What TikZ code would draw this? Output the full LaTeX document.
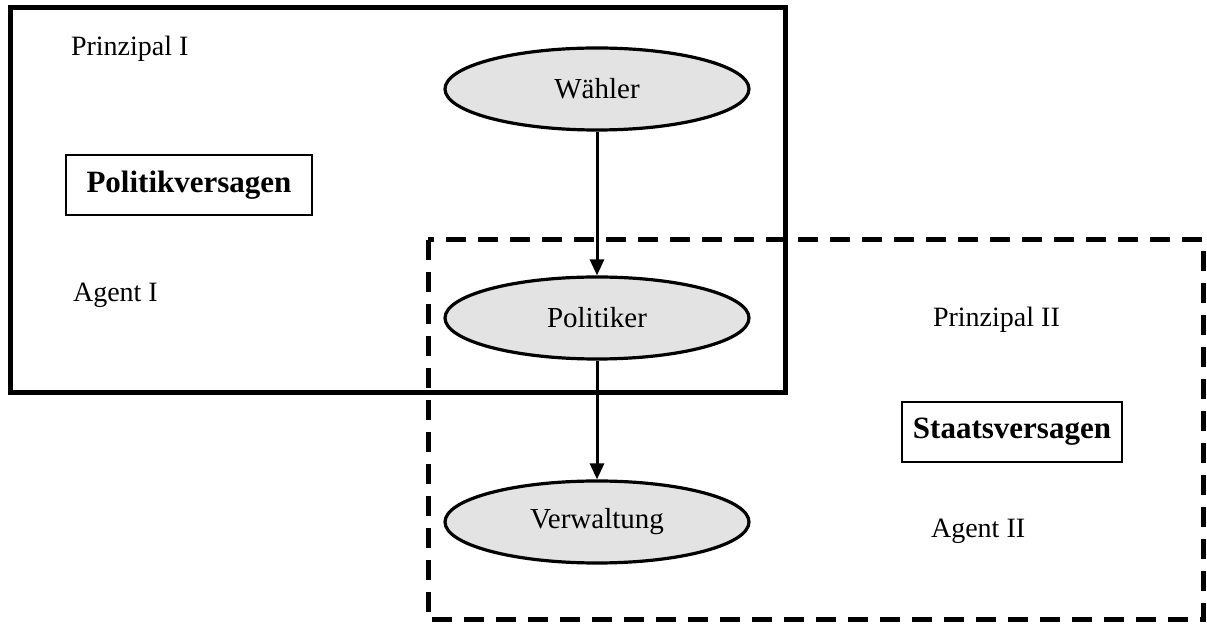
\documentclass[tikz,border=0pt]{standalone}
\usepackage{fontspec}
\setmainfont{Liberation Serif}
\usetikzlibrary{shapes.geometric,arrows.meta}
\begin{document}
\begin{tikzpicture}[x=0.5pt,y=-0.5pt,
  akteur/.style={ellipse, draw, line width=1.6pt, fill=gray!22, minimum width=152pt, minimum height=41pt, inner sep=0pt, font=\fontsize{14.5}{16}\selectfont},
  versagen/.style={draw, line width=0.6pt, font=\fontsize{15.5}{17}\selectfont\bfseries, inner sep=0pt},
  rolle/.style={anchor=west, font=\fontsize{14}{16}\selectfont},
  pfeil/.style={-{Triangle[length=8pt,width=7pt]}, line width=1.5pt}]
\useasboundingbox (0,0) rectangle (1207,625);
% Kaestchen
\draw[line width=2.5pt] (10,8) rectangle (785,393);
\draw[line width=2.5pt, dash pattern=on 10pt off 6pt] (428,240) rectangle (1203,620);
% Akteure
\node[akteur] (waehler) at (597,89) {Wähler};
\node[akteur] (politiker) at (597,318) {Politiker};
\node[akteur] (verwaltung) at (597,522) {Verwaltung};
\draw[pfeil] (waehler) -- (politiker);
\draw[pfeil] (politiker) -- (verwaltung);
% Beschriftungen
\node[rolle] (p1) at (64,49) {Prinzipal I};
\node[rolle] (a1) at (66,295) {Agent I};
\node[rolle] (p2) at (926,320) {Prinzipal II};
\node[rolle] (a2) at (924,531) {Agent II};
\node[versagen, minimum width=123pt, minimum height=30pt] (pv) at (189,185) {Politikversagen};
\node[versagen, minimum width=110pt, minimum height=30pt] (sv) at (1012,432) {Staatsversagen};
\end{tikzpicture}
\end{document}
